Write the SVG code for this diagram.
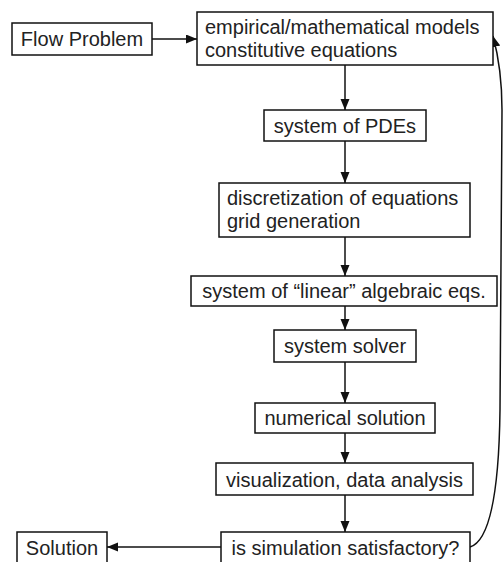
<svg xmlns="http://www.w3.org/2000/svg" width="504" height="562" viewBox="0 0 504 562">
<style>
.box{fill:#fff;stroke:#111;stroke-width:1.5}
.t{font-family:"Liberation Sans",Arial,sans-serif;font-size:20px;fill:#222}
.c{text-anchor:middle}
.ln{fill:none;stroke:#111;stroke-width:1.5}
</style>
<defs>
<marker id="ah" markerUnits="userSpaceOnUse" markerWidth="12" markerHeight="10" refX="11" refY="4.5" orient="auto">
<path d="M0,0 L11,4.5 L0,9 z" fill="#111"/>
</marker>
</defs>
<rect width="504" height="562" fill="#fff"/>
<g id="connectors">
<line class="ln" x1="152" y1="39" x2="197" y2="39" marker-end="url(#ah)"/>
<line class="ln" x1="345" y1="65" x2="345" y2="110" marker-end="url(#ah)"/>
<line class="ln" x1="345" y1="141" x2="345" y2="183" marker-end="url(#ah)"/>
<line class="ln" x1="345" y1="237" x2="345" y2="276" marker-end="url(#ah)"/>
<line class="ln" x1="345" y1="306" x2="345" y2="330" marker-end="url(#ah)"/>
<line class="ln" x1="345" y1="362" x2="345" y2="403" marker-end="url(#ah)"/>
<line class="ln" x1="345" y1="433" x2="345" y2="463" marker-end="url(#ah)"/>
<line class="ln" x1="345" y1="495" x2="345" y2="532" marker-end="url(#ah)"/>
<line class="ln" x1="221" y1="547" x2="107" y2="547" marker-end="url(#ah)"/>
<path class="ln" d="M470,547 C490,541 499,490 500,410 L502,110 C502,80 499,58 493,36" marker-end="url(#ah)"/>
</g>
<g id="flow-problem">
<rect class="box" x="12" y="23" width="140" height="32"/>
<text class="t c" x="82" y="46">Flow Problem</text>
</g>
<g id="models">
<rect class="box" x="197" y="12" width="296" height="53"/>
<text class="t" x="205" y="34">empirical/mathematical models</text>
<text class="t" x="205" y="57">constitutive equations</text>
</g>
<g id="pdes">
<rect class="box" x="264" y="110" width="162" height="31"/>
<text class="t c" x="345" y="133">system of PDEs</text>
</g>
<g id="discretization">
<rect class="box" x="219" y="183" width="251" height="54"/>
<text class="t" x="227" y="205">discretization of equations</text>
<text class="t" x="227" y="228">grid generation</text>
</g>
<g id="linear">
<rect class="box" x="191" y="276" width="306" height="30"/>
<text class="t c" x="344" y="298">system of “linear” algebraic eqs.</text>
</g>
<g id="solver">
<rect class="box" x="274" y="330" width="142" height="32"/>
<text class="t c" x="345" y="353">system solver</text>
</g>
<g id="numerical">
<rect class="box" x="255" y="403" width="180" height="30"/>
<text class="t c" x="345" y="425">numerical solution</text>
</g>
<g id="visualization">
<rect class="box" x="216" y="463" width="257" height="32"/>
<text class="t c" x="344.5" y="487">visualization, data analysis</text>
</g>
<g id="satisfactory">
<rect class="box" x="221" y="532" width="249" height="32"/>
<text class="t c" x="345.5" y="555">is simulation satisfactory?</text>
</g>
<g id="solution">
<rect class="box" x="17" y="532" width="90" height="32"/>
<text class="t c" x="62" y="555">Solution</text>
</g>
</svg>
